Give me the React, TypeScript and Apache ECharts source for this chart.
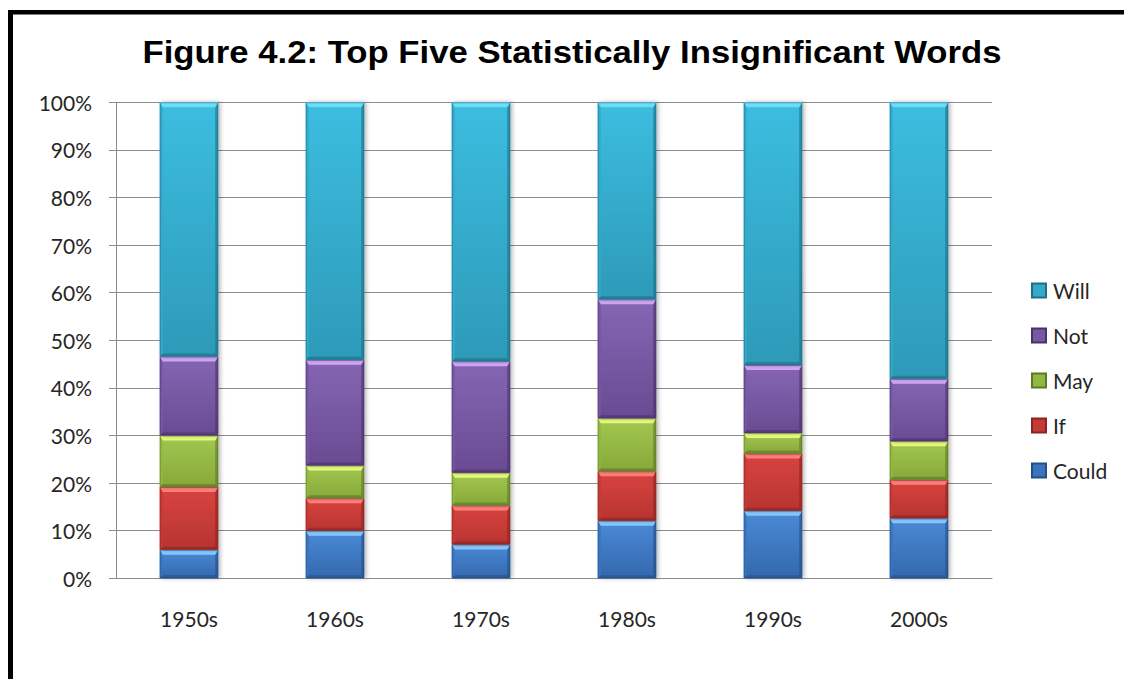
import React, { useEffect, useRef } from "react";
import * as echarts from "echarts";

const decades = ["1950s", "1960s", "1970s", "1980s", "1990s", "2000s"];
const wordNames = ["Could", "If", "May", "Not", "Will"];
const could = [6.0, 10.0, 7.1, 12.1, 14.2, 12.6];
const ifVals = [13.2, 6.8, 8.2, 10.4, 12.0, 8.1];
const may = [10.8, 6.9, 6.9, 11.1, 4.3, 8.1];
const not = [16.6, 22.2, 23.4, 25.0, 14.3, 13.1];
const will = [53.4, 54.1, 54.4, 41.4, 55.2, 58.1];
const yTicks = [0, 10, 20, 30, 40, 50, 60, 70, 80, 90, 100];
const titleText = "Figure 4.2: Top Five Statistically Insignificant Words";

const seriesData = [could, ifVals, may, not, will];

const palette = [
  { light: "#86c8ff", top: "#4a8ad6", bottom: "#3468ad", dark: "#244f86", side: "#3a74bd" },
  { light: "#ff807a", top: "#d9443f", bottom: "#b73431", dark: "#8a2421", side: "#c23b37" },
  { light: "#e6fa80", top: "#a3c84f", bottom: "#86a83a", dark: "#5e7826", side: "#93b743" },
  { light: "#cfa6f5", top: "#8566b4", bottom: "#694b92", dark: "#4a3269", side: "#7658a3" },
  { light: "#6ddcf5", top: "#3cbde0", bottom: "#2d9ab8", dark: "#1d6f86", side: "#34a9ca" },
];

export default function App() {
  const ref = useRef<HTMLDivElement>(null);
  useEffect(() => {
    if (!ref.current) return;
    const chart = echarts.init(ref.current, undefined, { renderer: "svg" });

    const makeRender = (sIdx: number) => (params: any, api: any) => {
      const ci = api.value(0);
      const v = api.value(1);
      let base = 0;
      for (let s = 0; s < sIdx; s++) base += seriesData[s][ci];
      const p0 = api.coord([ci, base]);
      const p1 = api.coord([ci, base + v]);
      const bw = api.size([1, 0])[0] * 0.4;
      const x = p0[0] - bw / 2;
      const y = p1[1];
      const w = bw;
      const h = p0[1] - p1[1];
      const b = Math.min(5, h / 3);
      const bb = Math.min(3, h / 4);
      const sb = Math.min(3, w / 4);
      const c = palette[sIdx];
      return {
        type: "group",
        children: [
          {
            type: "rect",
            shape: { x, y, width: w, height: h },
            style: {
              fill: new echarts.graphic.LinearGradient(0, 0, 0, 1, [
                { offset: 0, color: c.top },
                { offset: 1, color: c.bottom },
              ]),
              shadowBlur: 4,
              shadowColor: "rgba(0,0,0,0.3)",
              shadowOffsetX: 2,
            },
          },
          {
            type: "polygon",
            shape: { points: [[x, y], [x + sb, y + b], [x + sb, y + h - bb], [x, y + h]] },
            style: { fill: c.side, opacity: 0.9 },
          },
          {
            type: "polygon",
            shape: { points: [[x + w, y], [x + w - sb, y + b], [x + w - sb, y + h - bb], [x + w, y + h]] },
            style: { fill: c.dark, opacity: 0.6 },
          },
          {
            type: "polygon",
            shape: { points: [[x, y], [x + w, y], [x + w - sb, y + b], [x + sb, y + b]] },
            style: { fill: c.light },
          },
          {
            type: "polygon",
            shape: { points: [[x, y + h], [x + w, y + h], [x + w - sb, y + h - bb], [x + sb, y + h - bb]] },
            style: { fill: c.dark, opacity: 0.6 },
          },
          {
            type: "rect",
            shape: { x: x + 0.5, y: y + 0.5, width: w - 1, height: h - 1 },
            style: { fill: "none", stroke: c.dark, lineWidth: 1, opacity: 0.5 },
          },
        ],
      };
    };

    const labelFont = "Lato, 'Open Sans', sans-serif";

    chart.setOption({
      animation: false,
      backgroundColor: "#ffffff",
      grid: { left: 116, right: 132, top: 102.3, bottom: 100.7, containLabel: false },
      legend: {
        orient: "vertical",
        left: 1026,
        top: 275,
        itemWidth: 14,
        itemHeight: 14,
        itemGap: 24,
        icon: "rect",
        data: ["Will", "Not", "May", "If", "Could"],
        textStyle: { fontFamily: labelFont, fontSize: 21, color: "#262626", padding: [0, 0, 0, 2] },
      },
      xAxis: {
        type: "category",
        data: decades,
        axisLine: { lineStyle: { color: "#8c8c8c" } },
        axisTick: { length: 8, lineStyle: { color: "#8c8c8c" } },
        axisLabel: { fontFamily: labelFont, fontSize: 21, color: "#262626", margin: 30 },
      },
      yAxis: {
        type: "value",
        min: yTicks[0],
        max: yTicks[yTicks.length - 1],
        interval: 10,
        axisLine: { show: true, lineStyle: { color: "#8c8c8c" } },
        axisTick: { show: true, length: 7, lineStyle: { color: "#8c8c8c" } },
        splitLine: { lineStyle: { color: "#8c8c8c" } },
        axisLabel: {
          fontFamily: labelFont,
          fontSize: 21,
          color: "#262626",
          margin: 24,
          formatter: "{value}%",
        },
      },
      series: wordNames.map((name, sIdx) => ({
        name,
        type: "custom",
        renderItem: makeRender(sIdx),
        itemStyle: { color: palette[sIdx].side, borderColor: palette[sIdx].dark, borderWidth: 1 },
        encode: { x: 0, y: 1 },
        data: seriesData[sIdx].map((v, i) => [i, v]),
        z: 2,
      })),
      graphic: [
        {
          type: "text",
          x: 572,
          y: 52.5,
          scaleX: 1.12,
          z: 10,
          style: {
            text: titleText,
            x: 0,
            y: 0,
            align: "center",
            verticalAlign: "middle",
            textAlign: "center",
            textVerticalAlign: "middle",
            fontFamily: "'Liberation Sans', Arial, sans-serif",
            fontWeight: "bold",
            fontSize: 31,
            fill: "#000",
          },
        },
        { type: "rect", shape: { x: 8, y: 10, width: 1116, height: 4.5 }, style: { fill: "#000" }, z: 10 },
        { type: "rect", shape: { x: 8, y: 10, width: 5, height: 669 }, style: { fill: "#000" }, z: 10 },
      ],
    });
    return () => chart.dispose();
  }, []);
  return (
    <div
      ref={ref}
      style={{ position: "fixed", left: 0, top: 0, width: 1124, height: 679 }}
    />
  );
}
